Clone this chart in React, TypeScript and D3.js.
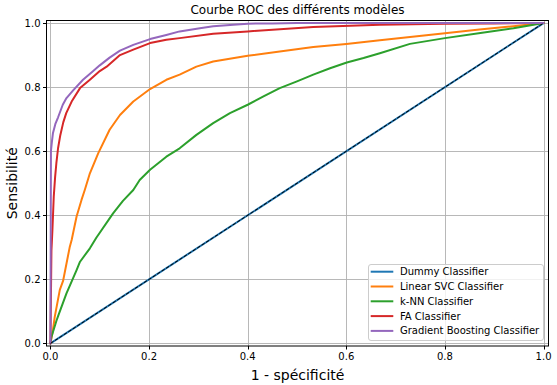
import React from "react";
import * as d3 from "d3";

const W = 557;
const H = 385;

const seriesNames = [
  "Dummy Classifier",
  "Linear SVC Classifier",
  "k-NN Classifier",
  "FA Classifier",
  "Gradient Boosting Classifier",
];
const seriesColors = ["#1f77b4", "#ff7f0e", "#2ca02c", "#d62728", "#9467bd"];

const dummyFpr = [0, 1];
const dummyTpr = [0, 1];

const svcFpr = [0, 0.005, 0.0087, 0.019, 0.0256, 0.039, 0.043, 0.053, 0.063, 0.0696, 0.08, 0.097, 0.12, 0.141, 0.168, 0.202, 0.235, 0.262, 0.296, 0.33, 0.4, 0.465, 0.533, 0.6, 0.668, 0.8, 0.87, 0.939, 1.0];
const svcTpr = [0, 0.042, 0.083, 0.167, 0.195, 0.3, 0.323, 0.396, 0.448, 0.479, 0.531, 0.594, 0.667, 0.713, 0.755, 0.794, 0.823, 0.839, 0.864, 0.88, 0.898, 0.911, 0.925, 0.935, 0.946, 0.968, 0.98, 0.99, 1.0];

const knnFpr = [0, 0.002, 0.012, 0.0155, 0.0325, 0.053, 0.06, 0.08, 0.093, 0.127, 0.147, 0.168, 0.181, 0.202, 0.235, 0.262, 0.296, 0.33, 0.364, 0.4, 0.432, 0.465, 0.5, 0.533, 0.567, 0.601, 0.635, 0.668, 0.729, 0.8, 0.872, 0.939, 1.0];
const knnTpr = [0, 0.02, 0.07, 0.085, 0.156, 0.229, 0.255, 0.297, 0.33, 0.406, 0.445, 0.479, 0.51, 0.542, 0.583, 0.609, 0.651, 0.6875, 0.719, 0.745, 0.771, 0.797, 0.818, 0.839, 0.859, 0.877, 0.891, 0.906, 0.935, 0.953, 0.969, 0.984, 1.0];

const faFpr = [0, 0.001, 0.002, 0.004, 0.0067, 0.0095, 0.012, 0.0155, 0.02, 0.026, 0.032, 0.043, 0.06, 0.08, 0.1, 0.114, 0.141, 0.168, 0.202, 0.235, 0.262, 0.33, 0.4, 0.533, 0.668, 0.8, 0.9, 1.0];
const faTpr = [0, 0.15, 0.29, 0.354, 0.458, 0.52, 0.5625, 0.61, 0.65, 0.69, 0.719, 0.755, 0.797, 0.823, 0.85, 0.864, 0.9, 0.917, 0.9375, 0.948, 0.953, 0.967, 0.974, 0.9875, 0.995, 0.998, 0.999, 1.0];

const gbFpr = [0, 0.0005, 0.001, 0.003, 0.005, 0.01, 0.0155, 0.025, 0.0325, 0.046, 0.066, 0.085, 0.1, 0.12, 0.141, 0.168, 0.202, 0.235, 0.262, 0.303, 0.33, 0.371, 0.4, 0.45, 0.5, 0.6, 0.8, 1.0];
const gbTpr = [0, 0.3, 0.6, 0.63, 0.656, 0.685, 0.706, 0.745, 0.766, 0.79, 0.823, 0.848, 0.868, 0.892, 0.914, 0.932, 0.95, 0.963, 0.974, 0.984, 0.99, 0.995, 0.998, 0.999, 1.0, 1.0, 1.0, 1.0];

const seriesFpr = [dummyFpr, svcFpr, knnFpr, faFpr, gbFpr];
const seriesTpr = [dummyTpr, svcTpr, knnTpr, faTpr, gbTpr];

const tickValues = [0, 0.2, 0.4, 0.6, 0.8, 1.0];

const titleText = "Courbe ROC des différents modèles";
const xLabel = "1 - spécificité";
const yLabel = "Sensibilité";

const FONT = "'DejaVu Sans', sans-serif";

export default function App() {
  const left = 46.5, right = 548.5, top = 20.5, bottom = 346;
  const x = d3.scaleLinear().domain([-0.008, 1.01]).range([left, right]);
  const y = d3.scaleLinear().domain([-0.008, 1.008]).range([bottom, top]);

  const line = d3
    .line<[number, number]>()
    .x((d) => x(d[0]))
    .y((d) => y(d[1]));

  const fmt = d3.format(".1f");

  const legX = 368.5, legY = 264.5, legW = 175, legH = 76;
  const rowGap = 14.8;

  return (
    <svg
      width={W}
      height={H}
      style={{ position: "absolute", left: 0, top: 0, background: "#fff" }}
      fontFamily={FONT}
    >
      <rect x={0} y={0} width={W} height={H} fill="#fff" />
      <defs>
        <clipPath id="plotclip">
          <rect x={left} y={top} width={right - left} height={bottom - top} />
        </clipPath>
      </defs>
      {tickValues.map((t) => (
        <line key={"gx" + t} x1={Math.round(x(t)) + 0.5} x2={Math.round(x(t)) + 0.5} y1={top} y2={bottom} stroke="#b0b0b0" strokeWidth={0.9} />
      ))}
      {tickValues.map((t) => (
        <line key={"gy" + t} y1={Math.round(y(t)) + 0.5} y2={Math.round(y(t)) + 0.5} x1={left} x2={right} stroke="#b0b0b0" strokeWidth={0.9} />
      ))}
      <g clipPath="url(#plotclip)">
        {seriesNames.map((name, i) => {
          const pts: [number, number][] = seriesFpr[i].map((v, j) => [v, seriesTpr[i][j]]);
          return (
            <path key={name} d={line(pts) || ""} fill="none" stroke={seriesColors[i]} strokeWidth={2} strokeLinejoin="round" strokeLinecap="round" />
          );
        })}
        <path
          d={line([[0, 0], [1, 1]]) || ""}
          fill="none"
          stroke="#000"
          strokeWidth={1}
          strokeDasharray="3.7,1.6"
        />
      </g>
      <rect x={left} y={top} width={right - left} height={bottom - top} fill="none" stroke="#000" strokeWidth={1} />
      {tickValues.map((t) => (
        <g key={"xt" + t}>
          <line x1={Math.round(x(t)) + 0.5} x2={Math.round(x(t)) + 0.5} y1={bottom} y2={bottom + 3.5} stroke="#000" strokeWidth={1} />
          <text x={x(t)} y={bottom + 14} fontSize={10} textAnchor="middle" fill="#000">
            {fmt(t)}
          </text>
        </g>
      ))}
      {tickValues.map((t) => (
        <g key={"yt" + t}>
          <line x1={left - 3.5} x2={left} y1={Math.round(y(t)) + 0.5} y2={Math.round(y(t)) + 0.5} stroke="#000" strokeWidth={1} />
          <text x={left - 6} y={y(t)} dy="0.35em" fontSize={10} textAnchor="end" fill="#000">
            {fmt(t)}
          </text>
        </g>
      ))}
      <text x={(left + right) / 2} y={14} fontSize={12} textAnchor="middle" fill="#000">
        {titleText}
      </text>
      <text x={(left + right) / 2} y={380} fontSize={14} textAnchor="middle" fill="#000">
        {xLabel}
      </text>
      <text transform={`translate(17,${(top + bottom) / 2}) rotate(-90)`} fontSize={14} textAnchor="middle" fill="#000">
        {yLabel}
      </text>
      <rect x={legX} y={legY} width={legW} height={legH} rx={2.5} fill="#fff" fillOpacity={0.8} stroke="#cccccc" strokeWidth={1} />
      {seriesNames.map((name, i) => {
        const ry = legY + 7.2 + i * rowGap;
        return (
          <g key={"leg" + name}>
            <line x1={370.7} x2={393.3} y1={ry} y2={ry} stroke={seriesColors[i]} strokeWidth={2} />
            <text x={400} y={ry} dy="0.35em" fontSize={10} fill="#000">
              {name}
            </text>
          </g>
        );
      })}
    </svg>
  );
}
